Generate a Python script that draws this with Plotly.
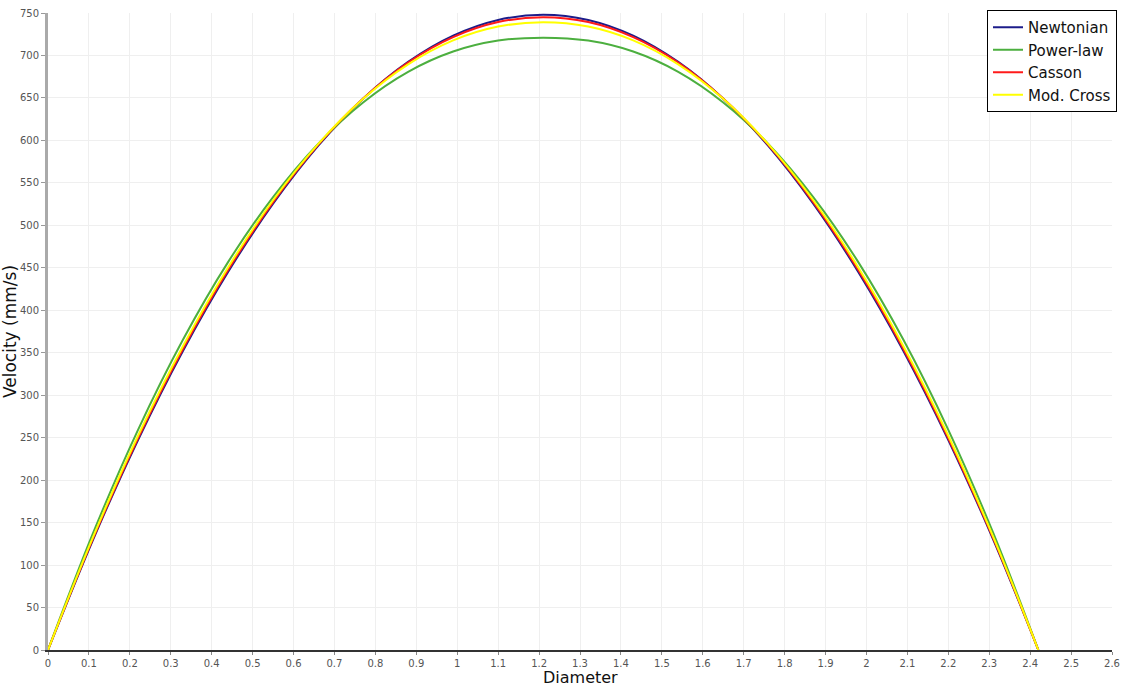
import plotly.graph_objects as go

# Radial sample positions across the vessel diameter
diameter = [0.0, 0.11, 0.22, 0.33, 0.44, 0.55, 0.66, 0.77, 0.88, 0.99, 1.10, 1.21,
            1.32, 1.43, 1.54, 1.65, 1.76, 1.87, 1.98, 2.09, 2.20, 2.31, 2.42]

# Velocity profiles (mm/s) for each rheological model
newtonian = [0, 129.8, 247.3, 352.4, 445.1, 525.5, 593.5, 649.1, 692.4, 723.3, 741.8, 748.0,
             741.8, 723.3, 692.4, 649.1, 593.5, 525.5, 445.1, 352.4, 247.3, 129.8, 0]
power_law = [0, 137.5, 259.2, 365.5, 456.7, 533.2, 595.8, 644.7, 680.7, 704.6, 717.5, 721.0,
             717.5, 704.6, 680.7, 644.7, 595.8, 533.2, 456.7, 365.5, 259.2, 137.5, 0]
casson = [0, 131.1, 249.3, 354.7, 447.4, 527.3, 594.7, 649.4, 691.7, 721.6, 739.3, 745.0,
          739.3, 721.6, 691.7, 649.4, 594.7, 527.3, 447.4, 354.7, 249.3, 131.1, 0]
mod_cross = [0, 132.9, 252.2, 358.0, 450.4, 529.5, 595.6, 648.9, 689.5, 717.7, 734.0, 739.0,
             734.0, 717.7, 689.5, 648.9, 595.6, 529.5, 450.4, 358.0, 252.2, 132.9, 0]

series = [
    ("Newtonian", newtonian, "#1c1c8a"),
    ("Power-law", power_law, "#4caf3f"),
    ("Casson", casson, "#ff1a1a"),
    ("Mod. Cross", mod_cross, "#ffff00"),
]

fig = go.Figure()
for name, values, color in series:
    fig.add_trace(go.Scatter(
        x=diameter, y=values, name=name, mode="lines",
        line=dict(color=color, width=2, shape="spline", smoothing=1.0),
    ))

font_family = "DejaVu Sans, Lato, sans-serif"
W, H = 1126, 686
M_T, M_B = 13, 36
plot_h = H - M_T - M_B

fig.update_layout(
    width=W, height=H,
    margin=dict(l=48, r=14, t=M_T, b=M_B, autoexpand=False),
    paper_bgcolor="white", plot_bgcolor="white",
    font=dict(family=font_family, color="#333"),
    showlegend=True,
    legend=dict(
        x=1.0047, y=1.0047, xanchor="right", yanchor="top",
        bgcolor="white", bordercolor="black", borderwidth=1,
        font=dict(size=15, color="#111"),
        tracegroupgap=0, itemwidth=30,
    ),
)

# x-axis title sits just under the tick labels, at the bottom edge of the page
fig.add_annotation(
    text="Diameter", xref="paper", yref="paper",
    x=0.5, y=-M_B / plot_h, xanchor="center", yanchor="bottom", yshift=-3,
    showarrow=False, font=dict(size=16, color="#111"),
)

fig.update_xaxes(
    range=[0, 2.6], dtick=0.1, tick0=0,
    showgrid=True, gridcolor="#efefef", gridwidth=1,
    showline=True, linecolor="#333", linewidth=1.5,
    ticks="outside", ticklen=3, tickcolor="#888",
    tickfont=dict(size=10, color="#555"),
    zeroline=False, automargin=False,
)
fig.update_yaxes(
    range=[0, 750], dtick=50, tick0=0,
    showgrid=True, gridcolor="#efefef", gridwidth=1,
    showline=True, linecolor="#aaa", linewidth=3,
    ticks="outside", ticklen=4, tickcolor="#999",
    tickfont=dict(size=10, color="#555"),
    zeroline=False, automargin=False,
    title=dict(text="Velocity (mm/s)", font=dict(size=17, color="#111"), standoff=0),
)

fig.write_html("out.html")
